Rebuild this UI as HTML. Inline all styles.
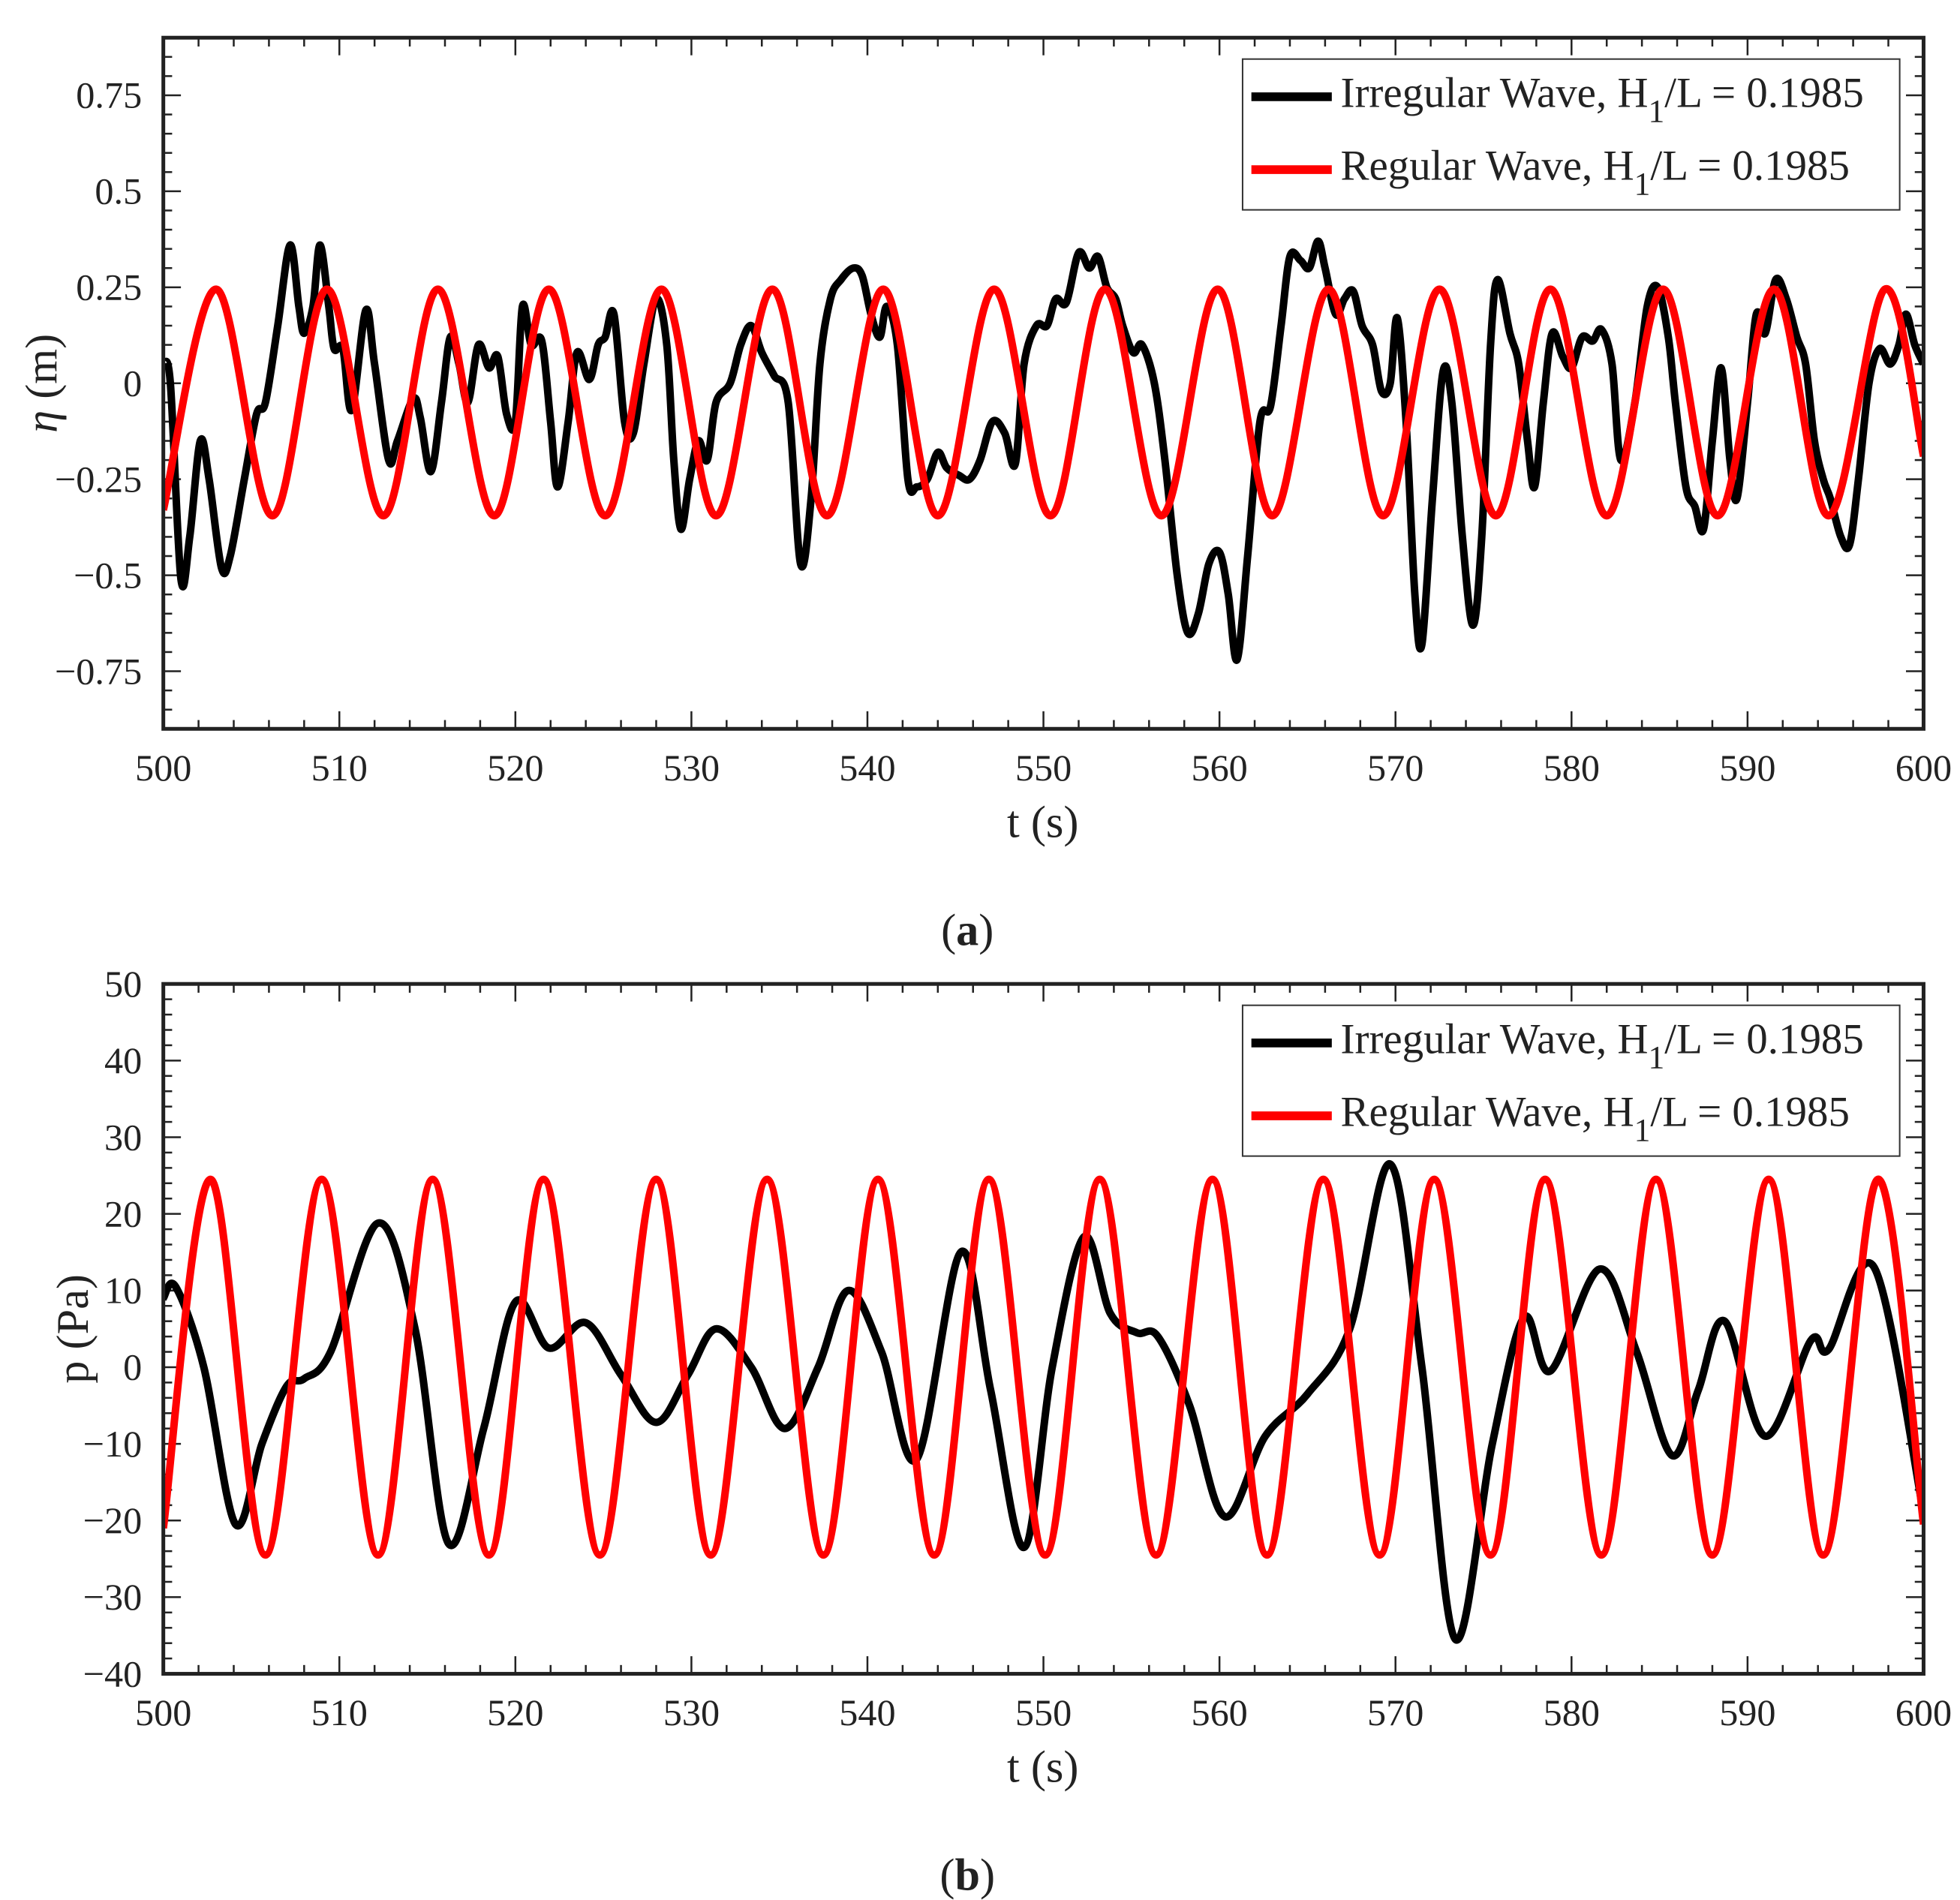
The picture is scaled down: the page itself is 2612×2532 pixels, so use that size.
<!DOCTYPE html>
<html><head><meta charset="utf-8"><style>
html,body{margin:0;padding:0;background:#fff;}
svg{display:block;}
text{font-family:"Liberation Serif",serif;fill:#222;}
</style></head><body>
<svg id="fig" width="2612" height="2532" viewBox="0 0 1560 1512" preserveAspectRatio="none" xmlns="http://www.w3.org/2000/svg"></svg>
<script>
// Panel (a) data
const aIrrT=[500,500.4,501.0,501.5,502.1,502.6,503.3,503.8,504.6,505.3,505.8,506.5,507.2,507.7,508.0,508.5,508.9,509.4,509.7,510.2,510.7,511.5,512.0,512.8,513.3,514.2,514.6,515.2,515.8,516.3,516.8,517.3,517.9,518.5,519.0,519.5,520.0,520.4,520.9,521.5,522.0,522.4,523.0,523.5,524.2,524.7,525.1,525.6,526.2,526.7,527.3,528.0,528.6,529.0,529.4,529.9,530.4,530.9,531.4,532.2,532.8,533.4,534.0,534.7,535.5,536.2,536.8,537.3,537.9,538.5,539.2,539.7,540.2,540.7,541.1,541.7,542.3,542.8,543.4,544.0,544.5,545.2,545.8,546.4,547.1,547.8,548.4,548.9,549.6,550.2,550.7,551.3,552.0,552.6,553.1,553.6,554.1,554.5,555.1,555.6,556.3,556.9,557.6,558.2,558.8,559.4,560.0,560.5,561.0,561.6,562.3,562.9,563.5,564.0,564.6,565.1,565.6,566.0,566.6,567.1,567.6,568.1,568.7,569.2,569.7,570.1,570.6,571.1,571.5,572.1,572.7,573.2,573.8,574.4,574.9,575.4,575.8,576.5,577.0,577.5,577.9,578.4,578.9,579.5,580.0,580.6,581.2,581.7,582.3,582.8,583.6,584.3,584.9,585.5,585.9,586.5,587.0,587.5,588.0,588.5,589.0,589.4,590.0,590.5,591.0,591.6,592.2,592.8,593.3,593.8,594.3,594.7,595.3,595.8,596.3,596.9,597.5,598.1,598.6,599.0,599.5,600];
const aIrrV=[0.05,0.0,-0.51,-0.4,-0.15,-0.25,-0.48,-0.45,-0.25,-0.08,-0.05,0.15,0.36,0.2,0.13,0.2,0.36,0.2,0.09,0.09,-0.07,0.19,0.05,-0.2,-0.15,-0.04,-0.09,-0.23,-0.05,0.12,0.05,-0.05,0.1,0.04,0.07,-0.08,-0.1,0.2,0.1,0.11,-0.1,-0.27,-0.1,0.08,0.01,0.1,0.12,0.18,-0.1,-0.13,0.05,0.22,0.1,-0.2,-0.38,-0.25,-0.15,-0.2,-0.05,0.0,0.1,0.15,0.08,0.02,-0.05,-0.47,-0.3,0.05,0.22,0.27,0.3,0.28,0.18,0.12,0.2,0.1,-0.25,-0.27,-0.25,-0.18,-0.22,-0.24,-0.25,-0.2,-0.1,-0.13,-0.21,0.05,0.15,0.15,0.22,0.21,0.34,0.3,0.33,0.25,0.22,0.15,0.08,0.1,0.0,-0.2,-0.5,-0.65,-0.6,-0.47,-0.44,-0.55,-0.72,-0.45,-0.1,-0.06,0.15,0.33,0.32,0.3,0.37,0.3,0.18,0.22,0.24,0.15,0.1,-0.02,0.0,0.17,-0.1,-0.55,-0.68,-0.3,0.03,-0.05,-0.4,-0.63,-0.4,0.1,0.27,0.13,0.05,-0.15,-0.27,-0.05,0.13,0.07,0.04,0.12,0.11,0.14,0.05,-0.2,-0.05,0.2,0.25,0.12,-0.05,-0.27,-0.32,-0.38,-0.15,0.04,-0.2,-0.3,-0.05,0.18,0.13,0.27,0.22,0.12,0.05,-0.15,-0.25,-0.3,-0.4,-0.42,-0.25,0.0,0.09,0.05,0.1,0.18,0.1,0.05];
const aRegT=[500,503.0,506.2,509.3,512.5,515.6,518.8,521.9,525.1,528.3,531.4,534.6,537.7,540.9,544.0,547.2,550.4,553.5,556.7,559.9,563.0,566.2,569.3,572.5,575.7,578.8,582.0,585.2,588.3,591.5,594.6,597.8,600];
const aRegV=[-0.33,0.245,-0.345,0.245,-0.345,0.245,-0.345,0.245,-0.345,0.245,-0.345,0.245,-0.345,0.245,-0.345,0.245,-0.345,0.245,-0.345,0.245,-0.345,0.245,-0.345,0.245,-0.345,0.245,-0.345,0.245,-0.345,0.245,-0.345,0.245,-0.19];
const aTicks=[-0.75,-0.5,-0.25,0,0.25,0.5,0.75];
const aTickLabels=["\u22120.75","\u22120.5","\u22120.25","0","0.25","0.5","0.75"];
// Panel (b) data
const bIrrT=[500,500.7,502.3,504.1,505.6,507.0,508.0,509.5,512.2,514.3,516.2,518.2,520.0,521.9,524.0,526.0,528.0,529.8,531.4,533.4,535.3,537.2,538.9,540.8,542.8,545.3,547.0,548.9,550.5,552.3,553.8,555.3,556.5,558.3,560.3,562.6,565.0,567.4,569.7,571.5,573.4,575.5,577.3,578.8,581.6,583.7,585.7,587.2,588.7,591.0,593.6,594.6,597.2,600];
const bIrrV=[9,10.5,0,-20.5,-10,-2.5,-1.5,2,18.8,5,-23,-8,8.5,2.5,5.8,-1,-7.2,-1,5,0,-8,0,10,2,-12,15,-3,-23.5,0,17,7,4.5,4,-5,-19.5,-9,-3.5,5,26.5,0,-35.5,-10,6.5,-0.5,12.8,2,-11.5,-3,6,-9,3.5,2.3,13,-19];
const bRegT=[500,502.7,505.8,509.0,512.2,515.3,518.5,521.6,524.8,528.0,531.1,534.3,537.5,540.6,543.8,546.9,550.1,553.2,556.4,559.6,562.7,565.9,569.1,572.2,575.4,578.5,581.7,584.8,588.0,591.2,594.3,597.4,600];
const bRegV=[-21,24.5,-24.5,24.5,-24.5,24.5,-24.5,24.5,-24.5,24.5,-24.5,24.5,-24.5,24.5,-24.5,24.5,-24.5,24.5,-24.5,24.5,-24.5,24.5,-24.5,24.5,-24.5,24.5,-24.5,24.5,-24.5,24.5,-24.5,24.5,-20.5];
const bTicks=[-40,-30,-20,-10,0,10,20,30,40,50];
const bTickLabels=["\u221240","\u221230","\u221220","\u221210","0","10","20","30","40","50"];
const xTicks=[500,510,520,530,540,550,560,570,580,590,600];

const NS="http://www.w3.org/2000/svg";
const svg=document.getElementById('fig');
function mk(tag,attrs,parent){const e=document.createElementNS(NS,tag);for(const k in attrs)e.setAttribute(k,attrs[k]);(parent||svg).appendChild(e);return e;}

function panel(cfg){
  const L=130,R=1531,T=cfg.top,B=cfg.bottom;
  const xs=t=>L+(t-500)/100*(R-L);
  const ys=v=>B-(v-cfg.ymin)/(cfg.ymax-cfg.ymin)*(B-T);
  const g=mk('g',{});
  
  
  const clip=mk('clipPath',{id:cfg.id+'-clip'},g);
  mk('rect',{x:L,y:T,width:R-L,height:B-T},clip);
  const tk=mk('g',{stroke:'#222','stroke-width':1.5},g);
  
  
  for(let t=500;t<=600;t+=2){const len=(t%10===0)?14:7;
    mk('line',{x1:xs(t),x2:xs(t),y1:B,y2:B-len},tk);mk('line',{x1:xs(t),x2:xs(t),y1:T,y2:T+len},tk);}
  const step=cfg.minor;
  for(let v=cfg.ymin;v<=cfg.ymax+1e-9;v+=step){const isMaj=cfg.ticks.some(m=>Math.abs(m-v)<1e-6);const len=isMaj?14:7;
    mk('line',{x1:L,x2:L+len,y1:ys(v),y2:ys(v)},tk);mk('line',{x1:R,x2:R-len,y1:ys(v),y2:ys(v)},tk);}
  function path(T_,V_,color,name){
    const p=T_.map((t,i)=>[xs(t),ys(V_[i])]);
    let d='M'+p[0][0].toFixed(2)+','+p[0][1].toFixed(2);
    for(let i=0;i<p.length-1;i++){const p0=p[Math.max(0,i-1)],p1=p[i],p2=p[i+1],p3=p[Math.min(p.length-1,i+2)];
      const c1=[p1[0]+(p2[0]-p0[0])/6,p1[1]+(p2[1]-p0[1])/6],c2=[p2[0]-(p3[0]-p1[0])/6,p2[1]-(p3[1]-p1[1])/6];
      d+=' C'+c1[0].toFixed(2)+','+c1[1].toFixed(2)+' '+c2[0].toFixed(2)+','+c2[1].toFixed(2)+' '+p2[0].toFixed(2)+','+p2[1].toFixed(2);}
    const e=mk('path',{d:d,fill:'none',stroke:color,'stroke-width':6,'stroke-linejoin':'round','clip-path':'url(#'+cfg.id+'-clip)'},g);
    
    
  }
  path(cfg.irrT,cfg.irrV,'#000',cfg.id+'-irregular-wave-line');
  path(cfg.regT,cfg.regV,'#ff0000',cfg.id+'-regular-wave-line');
  const fr=mk('rect',{x:L,y:T,width:R-L,height:B-T,fill:'none',stroke:'#222','stroke-width':3},g);
  
  
  xTicks.forEach(t=>{const e=mk('text',{x:xs(t),y:B+41,'text-anchor':'middle','font-size':30},g);e.textContent=t;
    
    });
  cfg.ticks.forEach((v,i)=>{const e=mk('text',{x:113,y:ys(v)+10,'text-anchor':'end','font-size':30},g);e.textContent=cfg.labels[i];
    
    });
  const xt=mk('text',{x:830,y:B+86,'text-anchor':'middle','font-size':36},g);xt.textContent='t (s)';
  
  
  const yt=mk('text',{x:0,y:0,'text-anchor':'middle','font-size':36,transform:'translate('+cfg.ylx+','+((T+B)/2)+') rotate(-90)'},g);
  yt.innerHTML=cfg.ytitle;
  
  
  const cap=mk('text',{x:770,y:B+172,'text-anchor':'middle','font-size':36},g);
  cap.innerHTML='(<tspan font-weight="bold">'+cfg.id.slice(-1)+'</tspan>)';
  
  
  const lg=mk('g',{},g);
  
  
  const ly=T+17;
  mk('rect',{x:989,y:ly,width:523,height:120,fill:'#fff',stroke:'#333','stroke-width':1.2},lg);
  [['Irregular','#000',30],['Regular','#ff0000',88]].forEach(([n,c,dy])=>{
    const en=mk('g',{},lg);
    
    
    mk('line',{x1:996,x2:1060,y1:ly+dy,y2:ly+dy,stroke:c,'stroke-width':7},en);
    const tx=mk('text',{x:1067,y:ly+dy+8,'font-size':34},en);
    tx.innerHTML=n+' Wave, H<tspan font-size="26" dy="12">1</tspan><tspan dy="-12">/L = 0.1985</tspan>';
  });
}
panel({id:'panel-a',top:30,bottom:580,ymin:-0.9,ymax:0.9,minor:0.05,ticks:aTicks,labels:aTickLabels,irrT:aIrrT,irrV:aIrrV,regT:aRegT,regV:aRegV,ylx:45,ytitle:'<tspan font-style="italic">η</tspan> (m)'});
panel({id:'panel-b',top:783,bottom:1332,ymin:-40,ymax:50,minor:2,ticks:bTicks,labels:bTickLabels,irrT:bIrrT,irrV:bIrrV,regT:bRegT,regV:bRegV,ylx:70,ytitle:'p (Pa)'});
</script>
</body></html>
